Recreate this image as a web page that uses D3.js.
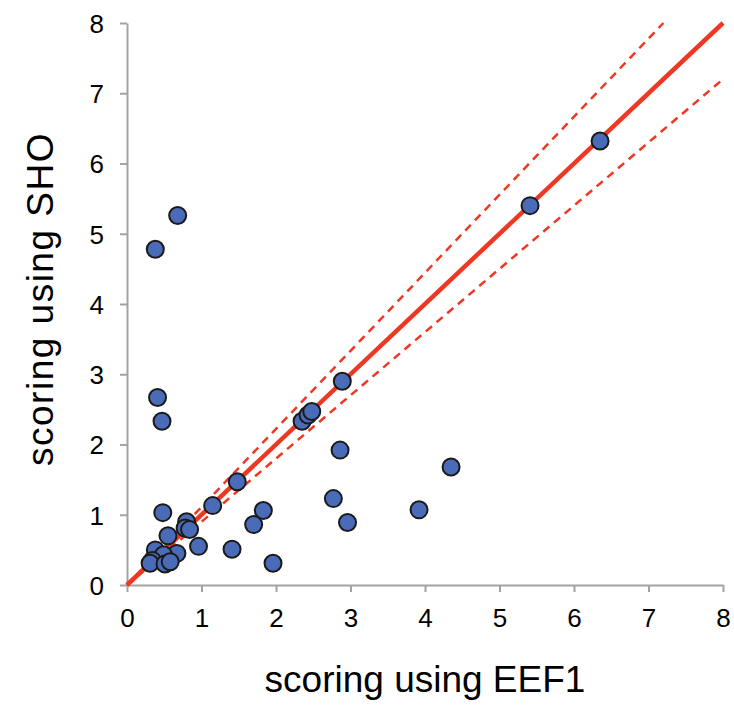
<!DOCTYPE html>
<html>
<head>
<meta charset="utf-8">
<script src="https://d3js.org/d3.v7.min.js"></script>
<style>
  body { margin: 0; background: #fff; }
  text { font-family: "Liberation Sans", Arial, Helvetica, sans-serif; }
</style>
</head>
<body>
<div id="chart"></div>
<script>
// scores of each structure with the two force fields
var eef1 = [6.35, 5.41, 0.68, 0.38, 0.41, 0.47, 2.89, 2.35, 2.43, 2.48, 2.86, 4.35,
            3.92, 1.48, 2.77, 2.96, 1.15, 1.83, 1.70, 0.48, 1.96, 1.41, 0.96, 0.80,
            0.78, 0.84, 0.55, 0.67, 0.38, 0.49, 0.34, 0.31, 0.51, 0.58];
var sho  = [6.32, 5.40, 5.26, 4.78, 2.67, 2.33, 2.90, 2.33, 2.42, 2.47, 1.92, 1.68,
            1.07, 1.47, 1.23, 0.89, 1.13, 1.06, 0.86, 1.03, 0.31, 0.51, 0.55, 0.90,
            0.81, 0.79, 0.70, 0.45, 0.50, 0.43, 0.35, 0.31, 0.30, 0.33];

// reference lines y = k*x (identity and +/-10%)
var refSlopes = [1, 1 / 0.9, 0.9];
var refDashed = [false, true, true];

var ticks = [0, 1, 2, 3, 4, 5, 6, 7, 8];
var xTitle = "scoring using EEF1";
var yTitle = "scoring using SHO";

var width = 734;
var height = 706;
var margin = {top: 23, right: 11, bottom: 121, left: 127};

var svg = d3.select("#chart")
    .append("svg")
    .attr("width", width)
    .attr("height", height);

var x = d3.scaleLinear().domain([0, 8]).range([margin.left, width - margin.right]);
var y = d3.scaleLinear().domain([0, 8]).range([height - margin.bottom, margin.top]);

// axes
var xAxis = svg.append("g")
    .attr("transform", "translate(0," + y(0) + ")")
    .call(d3.axisBottom(x).tickValues(ticks).tickSize(7).tickSizeOuter(0).tickPadding(17));
var yAxis = svg.append("g")
    .attr("transform", "translate(" + x(0) + ",0)")
    .call(d3.axisLeft(y).tickValues(ticks).tickSize(7).tickSizeOuter(0).tickPadding(16));

[xAxis, yAxis].forEach(function(a) {
    a.select(".domain").attr("stroke", "#a3a3a3").attr("stroke-width", 2);
    a.selectAll(".tick line").attr("stroke", "#a3a3a3").attr("stroke-width", 2);
    a.selectAll(".tick text")
        .attr("fill", "#000")
        .style("font-size", "26px")
        .style("font-family", "'Liberation Sans', Arial, sans-serif");
});
yAxis.selectAll(".tick text").attr("dy", "0.36em");

// reference lines, clipped to the 0..8 box
refSlopes.forEach(function(k, i) {
    var xEnd = Math.min(8, 8 / k);
    svg.append("line")
        .attr("x1", x(0))
        .attr("y1", y(0))
        .attr("x2", x(xEnd))
        .attr("y2", y(k * xEnd))
        .attr("stroke", "#ef3823")
        .attr("stroke-width", refDashed[i] ? 2.5 : 4.5)
        .attr("stroke-dasharray", refDashed[i] ? "8,6" : null);
});

// points
svg.append("g")
    .selectAll("circle")
    .data(eef1)
    .join("circle")
    .attr("cx", function(d) { return x(d); })
    .attr("cy", function(d, i) { return y(sho[i]); })
    .attr("r", 8.5)
    .attr("fill", "#4a6cb8")
    .attr("stroke", "#1a1a1a")
    .attr("stroke-width", 2);

// axis titles
svg.append("text")
    .attr("x", (x(0) + x(8)) / 2)
    .attr("y", 692)
    .attr("text-anchor", "middle")
    .style("font-size", "37px")
    .text(xTitle);

svg.append("text")
    .attr("transform", "translate(53," + ((y(0) + y(8)) / 2 - 5) + ") rotate(-90)")
    .attr("text-anchor", "middle")
    .style("font-size", "37px")
    .style("letter-spacing", "1.5px")
    .text(yTitle);
</script>
</body>
</html>
